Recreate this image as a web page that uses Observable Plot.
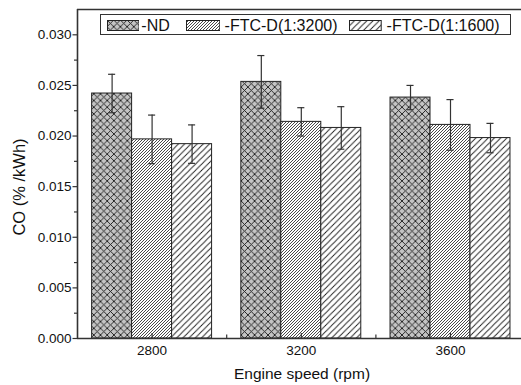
<!DOCTYPE html>
<html>
<head>
<meta charset="utf-8">
<script src="https://cdn.jsdelivr.net/npm/d3@7"></script>
<script src="https://cdn.jsdelivr.net/npm/@observablehq/plot@0.6"></script>
<style>
  html, body { margin: 0; padding: 0; background: #fff; overflow: hidden; }
  #wrap { position: relative; width: 521px; height: 385px; font-family: "Liberation Sans", Arial, sans-serif; color: #111; }
  .abs { position: absolute; white-space: nowrap; line-height: 1; }
  .sw { position: absolute; }
  #legendBox { position: absolute; left: 100px; top: 14px; width: 411px; height: 20.5px; border: 1px solid #333; background: #fff; box-sizing: border-box; }
</style>
</head>
<body>
<svg width="0" height="0" style="position:absolute">
  <defs>
    <pattern id="patND" patternUnits="userSpaceOnUse" width="6.7" height="6.7">
      <rect width="6.7" height="6.7" fill="#c4c4c4"></rect>
      <path d="M0,0L6.7,6.7M0,6.7L6.7,0M-1,1L1,-1M5.7,7.7L7.7,5.7M-1,5.7L1,7.7M5.7,-1L7.7,1" stroke="#1a1a1a" stroke-width="0.9" fill="none"></path>
    </pattern>
    <pattern id="pat3200" patternUnits="userSpaceOnUse" width="3" height="3">
      <rect width="3" height="3" fill="#fff"></rect>
      <path d="M0,3L3,0M-0.75,0.75L0.75,-0.75M2.25,3.75L3.75,2.25" stroke="#1a1a1a" stroke-width="0.8" fill="none"></path>
    </pattern>
    <pattern id="pat1600" patternUnits="userSpaceOnUse" width="6.2" height="6.2">
      <rect width="6.2" height="6.2" fill="#fff"></rect>
      <path d="M0,6.2L6.2,0M-1,1L1,-1M5.2,7.2L7.2,5.2" stroke="#1a1a1a" stroke-width="0.9" fill="none"></path>
    </pattern>
  </defs>
</svg>
<div id="wrap"></div>
<script>
// ---- data ----
const speeds = [2800, 3200, 3600];
const seriesNames = ["-ND", "-FTC-D(1:3200)", "-FTC-D(1:1600)"];
const ndMean = [0.0242, 0.02535, 0.0238];
const ndErr = [0.0019, 0.0026, 0.0012];
const d3200Mean = [0.01967, 0.0214, 0.0211];
const d3200Err = [0.0024, 0.0014, 0.0025];
const d1600Mean = [0.0192, 0.0208, 0.0198];
const d1600Err = [0.0019, 0.0021, 0.00145];
const yMajorTicks = [0, 0.005, 0.010, 0.015, 0.020, 0.025, 0.030];
const yMinorTicks = [0.0025, 0.0075, 0.0125, 0.0175, 0.0225, 0.0275];
const xMajorTicks = [2800, 3200, 3600];
const xMinorTicks = [3000, 3400];

// ---- layout / style ----
const barW = 107.2;     // bar width in rpm units
const capW = 9.5;       // half cap width in rpm units
const patterns = ["url(#patND)", "url(#pat3200)", "url(#pat1600)"];
const means = [ndMean, d3200Mean, d1600Mean];
const errs = [ndErr, d3200Err, d1600Err];

const rows = [];
speeds.forEach((s, j) => {
  seriesNames.forEach((name, k) => {
    rows.push({speed: s, series: name, k, mean: means[k][j], err: errs[k][j]});
  });
});
const cx = d => d.speed + (d.k - 1) * barW;

const chart = Plot.plot({
  width: 521,
  height: 385,
  marginLeft: 77,
  marginRight: 0,
  marginTop: 9,
  marginBottom: 47,
  style: {fontFamily: "Liberation Sans, Arial, sans-serif", fontSize: "13.5px", color: "#111", background: "transparent"},
  x: {domain: [2600, 3800], range: [77, 524.6]},
  y: {domain: [0, 0.0325]},
  marks: [
    ...seriesNames.map((name, k) => Plot.rectY(rows.filter(r => r.k === k), {
      x1: d => d.speed + (d.k - 1.5) * barW,
      x2: d => d.speed + (d.k - 0.5) * barW,
      y1: 0,
      y2: "mean",
      fill: patterns[k],
      stroke: "#222",
      strokeWidth: 1
    })),
    Plot.ruleX(rows, {x: cx, y1: d => d.mean - d.err, y2: d => d.mean + d.err, stroke: "#333", strokeWidth: 1.2}),
    Plot.ruleY(rows, {y: d => d.mean + d.err, x1: d => cx(d) - capW, x2: d => cx(d) + capW, stroke: "#333", strokeWidth: 1.2}),
    Plot.ruleY(rows, {y: d => d.mean - d.err, x1: d => cx(d) - capW, x2: d => cx(d) + capW, stroke: "#333", strokeWidth: 1.2}),
    Plot.ruleY([0], {stroke: "#333", strokeWidth: 1.6}),
    Plot.ruleY([0.0325], {stroke: "#333", strokeWidth: 1.6}),
    Plot.ruleX([2600], {stroke: "#333", strokeWidth: 1.6}),
    Plot.axisY({ticks: yMajorTicks, tickFormat: d3.format(".3f"), tickSize: 4.5, tickPadding: 1.5, label: null, stroke: "#333", strokeWidth: 1.2}),
    Plot.axisY({ticks: yMinorTicks, tickFormat: () => "", tickSize: 3, label: null, stroke: "#333", strokeWidth: 1.2}),
    Plot.axisX({ticks: xMajorTicks, tickFormat: d => String(d), tickSize: 0, tickPadding: 7.4, label: null}),
    Plot.axisX({ticks: xMajorTicks, tickFormat: () => "", tickSize: -5, label: null, stroke: "#333", strokeWidth: 1.2}),
    Plot.axisX({ticks: xMinorTicks, tickFormat: () => "", tickSize: -3.5, label: null, stroke: "#333", strokeWidth: 1.2})
  ]
});

const wrap = document.getElementById("wrap");
wrap.appendChild(chart);

// axis titles
const xt = document.createElement("div");
xt.className = "abs";
xt.textContent = "Engine speed (rpm)";
xt.style.cssText = "font-size:15.5px;left:302px;top:366px;transform:translateX(-50%);";
wrap.appendChild(xt);

const yt = document.createElement("div");
yt.className = "abs";
yt.textContent = "CO (% /kWh)";
yt.style.cssText = "font-size:16.5px;left:19.3px;top:186.5px;transform:translate(-50%,-50%) rotate(-90deg);";
wrap.appendChild(yt);

// legend
const box = document.createElement("div");
box.id = "legendBox";
wrap.appendChild(box);
const swLeft = [106.7, 185.7, 349];
const swWidth = [32.6, 34.3, 32.7];
const txLeft = [141.3, 224.6, 386.6];
seriesNames.forEach((name, k) => {
  const ns = "http://www.w3.org/2000/svg";
  const s = document.createElementNS(ns, "svg");
  s.setAttribute("class", "sw");
  s.setAttribute("width", swWidth[k]);
  s.setAttribute("height", 11);
  s.style.left = swLeft[k] + "px";
  s.style.top = "19.6px";
  const r = document.createElementNS(ns, "rect");
  r.setAttribute("x", 0.5); r.setAttribute("y", 0.5);
  r.setAttribute("width", swWidth[k] - 1); r.setAttribute("height", 10);
  r.setAttribute("fill", patterns[k]);
  r.setAttribute("stroke", "#222");
  r.setAttribute("stroke-width", 1);
  s.appendChild(r);
  wrap.appendChild(s);
  const t = document.createElement("div");
  t.className = "abs";
  t.textContent = name;
  t.style.cssText = `font-size:16px;left:${txLeft[k]}px;top:18px;`;
  wrap.appendChild(t);
});
</script>
</body>
</html>
